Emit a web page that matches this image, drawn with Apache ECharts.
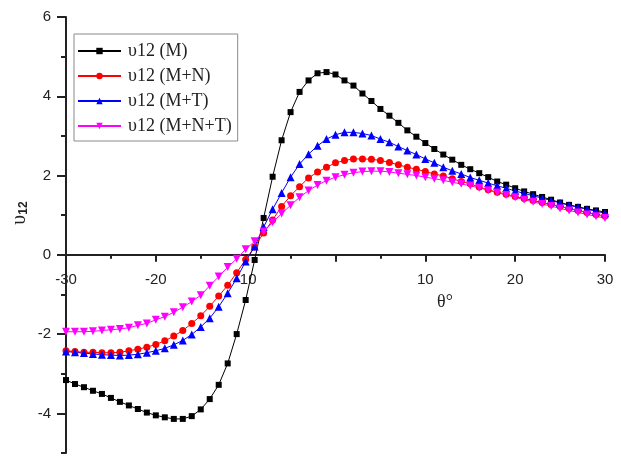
<!DOCTYPE html>
<html>
<head>
<meta charset="utf-8">
<script src="https://cdn.jsdelivr.net/npm/echarts@6/dist/echarts.min.js"></script>
<style>
  html, body { margin: 0; padding: 0; background: #fff; }
  #chart { width: 621px; height: 461px; }
</style>
</head>
<body>
<div id="chart"></div>
<script>
// theta (degrees), one point per degree
var theta = [-30,-29,-28,-27,-26,-25,-24,-23,-22,-21,
             -20,-19,-18,-17,-16,-15,-14,-13,-12,-11,
             -10,-9,-8,-7,-6,-5,-4,-3,-2,-1,
             0,1,2,3,4,5,6,7,8,9,
             10,11,12,13,14,15,16,17,18,19,
             20,21,22,23,24,25,26,27,28,29,30];

var v12M = [-3.16,-3.26,-3.34,-3.43,-3.51,-3.61,-3.71,-3.80,-3.89,-3.98,
            -4.05,-4.10,-4.14,-4.14,-4.07,-3.90,-3.64,-3.28,-2.74,-2.00,
            -1.14,-0.13,0.93,1.97,2.89,3.60,4.11,4.40,4.58,4.61,
            4.55,4.40,4.27,4.07,3.88,3.68,3.51,3.33,3.14,2.98,
            2.82,2.67,2.53,2.40,2.27,2.16,2.06,1.96,1.85,1.77,
            1.68,1.60,1.53,1.46,1.39,1.32,1.26,1.21,1.16,1.12,1.08];

var v12MN = [-2.42,-2.44,-2.46,-2.46,-2.47,-2.47,-2.46,-2.42,-2.38,-2.33,
             -2.26,-2.17,-2.05,-1.91,-1.73,-1.54,-1.30,-1.04,-0.77,-0.45,
             -0.12,0.20,0.55,0.88,1.22,1.49,1.72,1.94,2.09,2.21,
             2.32,2.38,2.42,2.42,2.41,2.38,2.33,2.27,2.21,2.16,
             2.10,2.04,1.99,1.92,1.85,1.79,1.71,1.64,1.58,1.53,
             1.47,1.42,1.37,1.32,1.27,1.22,1.17,1.12,1.07,1.02,0.98];

var v12MT = [-2.44,-2.46,-2.48,-2.50,-2.52,-2.53,-2.54,-2.53,-2.51,-2.47,
             -2.42,-2.36,-2.27,-2.16,-2.01,-1.82,-1.60,-1.31,-0.97,-0.59,
             -0.17,0.21,0.70,1.15,1.56,1.96,2.29,2.54,2.75,2.92,
             3.03,3.09,3.09,3.06,3.01,2.92,2.84,2.73,2.63,2.53,
             2.42,2.32,2.21,2.12,2.04,1.95,1.88,1.81,1.74,1.68,
             1.61,1.55,1.49,1.43,1.37,1.31,1.25,1.20,1.15,1.10,1.05];

var v12MNT = [-1.94,-1.94,-1.94,-1.93,-1.91,-1.89,-1.87,-1.84,-1.78,-1.73,
              -1.64,-1.56,-1.45,-1.32,-1.18,-1.02,-0.78,-0.55,-0.31,-0.10,
              0.14,0.34,0.59,0.82,1.04,1.25,1.45,1.62,1.76,1.87,
              1.96,2.02,2.07,2.10,2.11,2.11,2.09,2.06,2.03,2.00,
              1.96,1.92,1.88,1.83,1.79,1.74,1.69,1.63,1.57,1.51,
              1.45,1.39,1.34,1.28,1.23,1.17,1.12,1.07,1.02,0.97,0.93];

var seriesNames = ['υ12 (M)', 'υ12 (M+N)', 'υ12 (M+T)', 'υ12 (M+N+T)'];
var xMajorTicks = [-30, -20, -10, 0, 10, 20, 30];
var xMinorTicks = [-25, -15, -5, 5, 15, 25];
var xTickLabels = [-30, -20, -10, 10, 20, 30];   // no label at 0
var yMajorTicks = [-4, -2, 0, 2, 4, 6];
var yMinorTicks = [-5, -3, -1, 1, 3, 5];

function pairs(ys) {
    return theta.map(function (t, i) { return [t, ys[i]]; });
}

var downTriangle = 'path://M0,0 L10,0 L5,9 Z';

function lineSeries(name, ys, color, symbol, size) {
    return {
        name: name,
        type: 'line',
        data: pairs(ys),
        symbol: symbol,
        symbolSize: size,
        showSymbol: true,
        showAllSymbol: true,
        lineStyle: { color: color, width: 1 },
        itemStyle: { color: color },
        z: 3
    };
}

var myChart = echarts.init(document.getElementById('chart'));

var axisColor = '#222';
var plotRect = { left: 66, right: 16, top: 17, bottom: 8, outerBoundsMode: 'none', containLabel: false };

option = {
    backgroundColor: '#fff',
    animation: false,
    // second grid only carries the short ticks (odd y values, x at 5s)
    grid: [plotRect, plotRect],
    legend: {
        orient: 'vertical',
        left: 74,
        top: 34,
        padding: [8, 6, 6, 3],
        itemGap: 7,
        itemWidth: 43,
        itemHeight: 8,
        borderColor: '#8a8a8a',
        borderWidth: 1,
        textStyle: {
            fontFamily: 'Liberation Serif',
            fontSize: 18,
            color: '#222',
            lineHeight: 16.5,
            padding: [0, 0, 0, 2]
        },
        data: seriesNames
    },
    xAxis: [{
        type: 'value',
        gridIndex: 0,
        position: 'bottom',
        min: -30,
        max: 30,
        interval: 10,
        axisLine: { onZero: false, lineStyle: { color: axisColor, width: 2 } },
        axisTick: { show: true, length: 7, customValues: xMajorTicks, lineStyle: { color: axisColor, width: 2 } },
        axisLabel: { customValues: xTickLabels, fontFamily: 'Liberation Sans', fontSize: 15, color: axisColor, margin: 18 },
        splitLine: { show: false }
    }, {
        type: 'value',
        gridIndex: 1,
        position: 'bottom',
        min: -30,
        max: 30,
        axisLine: { show: false, onZero: false },
        axisTick: { show: true, length: 4, customValues: xMinorTicks, lineStyle: { color: axisColor, width: 2 } },
        axisLabel: { show: false },
        splitLine: { show: false }
    }],
    yAxis: [{
        type: 'value',
        gridIndex: 0,
        min: -5,
        max: 6,
        axisLine: { show: true, onZero: false, lineStyle: { color: axisColor, width: 2 } },
        axisTick: { show: true, length: 9, customValues: yMajorTicks, lineStyle: { color: axisColor, width: 2 } },
        axisLabel: { customValues: yMajorTicks, fontFamily: 'Liberation Sans', fontSize: 15, color: axisColor, margin: 15 },
        splitLine: { show: false }
    }, {
        type: 'value',
        gridIndex: 1,
        min: -5,
        max: 6,
        axisLine: { show: false, onZero: false },
        axisTick: { show: true, length: 5, customValues: yMinorTicks, lineStyle: { color: axisColor, width: 2 } },
        axisLabel: { show: false },
        splitLine: { show: false }
    }],
    graphic: [{
        type: 'text',
        x: 445,
        y: 302,
        style: {
            text: 'θ°',
            font: '18px "Liberation Serif"',
            fill: '#222',
            align: 'center',
            verticalAlign: 'middle'
        }
    }, {
        type: 'text',
        x: 20,
        y: 213,
        rotation: Math.PI / 2,
        style: {
            text: '{a|υ}{b|12}',
            align: 'center',
            verticalAlign: 'middle',
            rich: {
                a: { font: '20px "Liberation Serif"', fill: '#222' },
                b: { font: 'bold 12px "Liberation Sans"', fill: '#222', padding: [8, 0, 0, 0] }
            }
        }
    }],
    series: [
        lineSeries(seriesNames[0], v12M, '#000000', 'rect', 6),
        lineSeries(seriesNames[1], v12MN, '#ff0000', 'circle', 7),
        lineSeries(seriesNames[2], v12MT, '#0000ff', 'triangle', 8),
        lineSeries(seriesNames[3], v12MNT, '#ff00ff', downTriangle, 8)
    ]
};

myChart.setOption(option);

// move both x axes (line, ticks, labels) up to y = 0
var zeroPx = myChart.convertToPixel({ yAxisIndex: 0 }, 0);
var bottomPx = myChart.convertToPixel({ yAxisIndex: 0 }, -5);
myChart.setOption({ xAxis: [{ offset: zeroPx - bottomPx }, { offset: zeroPx - bottomPx }] });
</script>
</body>
</html>
